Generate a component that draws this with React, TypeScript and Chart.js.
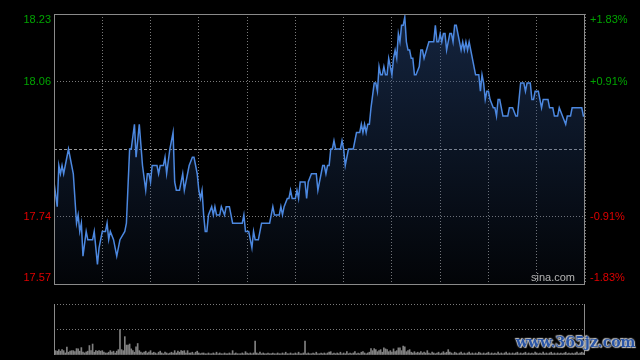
import React, { useEffect, useRef } from "react";
import { Chart, registerables } from "chart.js";
Chart.register(...registerables);

// ---- data ----
const prevClose = 17.9;
const halfRange = 0.3275; // 1.83% of previous close
const totalMinutes = 330; // HK session 09:30-12:00, 13:00-16:00
const leftTickLabels = ["18.23", "18.06", "17.74", "17.57"];
const rightTickLabels = ["+1.83%", "+0.91%", "-0.91%", "-1.83%"];
const tickSteps = [1, 0.5, -0.5, -1]; // fraction of halfRange above / below previous close

// minute index of each turning point of the price line, and its price
const priceMinutes = [
  0, 2, 3, 4, 5, 6, 9, 12, 14, 15, 16, 17, 18, 20, 21, 24, 25, 27, 28, 30,
  32, 33, 34, 35, 37, 39, 41, 44, 45, 47, 48, 50, 51, 53, 55, 57, 58, 59, 60, 61,
  64, 65, 66, 68, 69, 70, 72, 74, 75, 76, 78, 80, 81, 82, 84, 86, 87, 89, 90, 91,
  92, 93, 94, 95, 96, 98, 99, 100, 101, 103, 104, 106, 107, 109, 110, 111, 117, 118, 119, 121,
  122, 123, 124, 125, 127, 129, 134, 136, 137, 140, 141, 142, 143, 145, 146, 147, 148, 150, 151, 152,
  153, 156, 157, 158, 160, 163, 164, 165, 167, 168, 169, 170, 171, 172, 173, 174, 175, 178, 179, 180,
  181, 183, 186, 188, 190, 191, 192, 193, 194, 195, 196, 197, 199, 200, 201, 202, 203, 204, 205, 206,
  207, 208, 209, 210, 211, 212, 213, 214, 215, 216, 217, 218, 219, 220, 221, 222, 223, 224, 225, 227,
  228, 229, 230, 233, 236, 237, 238, 239, 240, 241, 242, 243, 244, 246, 247, 248, 249, 250, 251, 253,
  254, 255, 256, 257, 258, 259, 261, 262, 264, 265, 266, 267, 268, 269, 270, 271, 273, 274, 275, 276,
  277, 279, 282, 283, 285, 287, 288, 289, 290, 292, 293, 294, 296, 297, 298, 299, 301, 303, 304, 307,
  308, 310, 311, 313, 314, 316, 318, 319, 321, 322, 328, 329, 330,
];
const priceValues = [
  17.82, 17.76, 17.86, 17.84, 17.86, 17.84, 17.9, 17.84, 17.72, 17.74, 17.7, 17.72, 17.64, 17.7, 17.68, 17.68, 17.7, 17.62, 17.66, 17.7,
  17.7, 17.72, 17.68, 17.7, 17.68, 17.64, 17.68, 17.7, 17.72, 17.9, 17.9, 17.96, 17.88, 17.96, 17.86, 17.8, 17.84, 17.84, 17.82, 17.86,
  17.86, 17.84, 17.86, 17.86, 17.88, 17.84, 17.9, 17.94, 17.82, 17.8, 17.8, 17.84, 17.8, 17.82, 17.86, 17.88, 17.88, 17.84, 17.8, 17.78,
  17.8, 17.74, 17.7, 17.7, 17.74, 17.76, 17.74, 17.76, 17.74, 17.74, 17.76, 17.74, 17.76, 17.76, 17.74, 17.72, 17.72, 17.74, 17.7, 17.7,
  17.68, 17.66, 17.7, 17.68, 17.68, 17.72, 17.72, 17.76, 17.74, 17.74, 17.76, 17.74, 17.76, 17.78, 17.78, 17.8, 17.78, 17.78, 17.8, 17.78,
  17.82, 17.82, 17.78, 17.82, 17.84, 17.84, 17.8, 17.82, 17.86, 17.86, 17.84, 17.86, 17.86, 17.9, 17.9, 17.92, 17.9, 17.9, 17.92, 17.9,
  17.86, 17.9, 17.9, 17.94, 17.94, 17.96, 17.94, 17.96, 17.94, 17.96, 17.96, 18.0, 18.06, 18.06, 18.04, 18.1, 18.08, 18.08, 18.1, 18.08,
  18.08, 18.12, 18.1, 18.08, 18.12, 18.14, 18.12, 18.18, 18.16, 18.2, 18.2, 18.22, 18.16, 18.14, 18.14, 18.12, 18.12, 18.08, 18.08, 18.1,
  18.14, 18.14, 18.12, 18.16, 18.16, 18.2, 18.16, 18.16, 18.18, 18.16, 18.18, 18.18, 18.14, 18.18, 18.18, 18.16, 18.2, 18.2, 18.18, 18.14,
  18.16, 18.14, 18.16, 18.14, 18.16, 18.14, 18.1, 18.08, 18.08, 18.04, 18.08, 18.06, 18.02, 18.04, 18.04, 18.02, 18.0, 18.0, 17.98, 18.02,
  18.02, 17.98, 17.98, 18.0, 18.0, 17.98, 17.98, 18.02, 18.06, 18.06, 18.04, 18.06, 18.06, 18.02, 18.02, 18.04, 18.04, 18.0, 18.02, 18.02,
  18.0, 18.0, 17.98, 17.98, 18.0, 17.98, 17.96, 17.98, 17.98, 18.0, 18.0, 17.98, 17.98,
];

// per-minute volume (relative units, 100 = middle grid line)
const volumes = [
  17, 17, 15, 21, 15, 21, 17, 8, 31, 11,
  15, 17, 17, 13, 25, 24, 15, 29, 11, 8,
  12, 15, 37, 17, 43, 11, 17, 15, 17, 15,
  17, 11, 8, 8, 11, 17, 11, 15, 8, 15,
  21, 100, 21, 17, 72, 39, 39, 43, 24, 17,
  11, 32, 45, 17, 11, 8, 11, 15, 8, 11,
  17, 8, 11, 8, 5, 11, 15, 8, 5, 11,
  8, 5, 8, 11, 8, 17, 8, 15, 11, 17,
  15, 17, 8, 17, 8, 8, 11, 5, 11, 15,
  8, 5, 8, 8, 5, 5, 8, 5, 5, 8,
  5, 11, 5, 8, 5, 5, 8, 5, 5, 8,
  5, 17, 5, 8, 5, 5, 5, 8, 5, 13,
  8, 5, 8, 5, 8, 55, 8, 5, 11, 5,
  8, 5, 5, 8, 5, 5, 8, 5, 5, 8,
  5, 5, 8, 5, 11, 5, 5, 8, 5, 5,
  8, 5, 11, 5, 5, 8, 55, 5, 8, 5,
  5, 8, 5, 11, 5, 5, 8, 5, 8, 5,
  8, 11, 13, 5, 8, 5, 8, 5, 11, 5,
  8, 5, 13, 5, 8, 5, 8, 13, 5, 8,
  5, 11, 13, 8, 5, 8, 11, 25, 17, 25,
  21, 13, 17, 21, 11, 28, 24, 21, 13, 17,
  11, 24, 13, 17, 28, 28, 17, 35, 32, 13,
  17, 21, 11, 8, 13, 8, 11, 8, 13, 8,
  11, 8, 17, 8, 5, 11, 8, 5, 8, 11,
  5, 8, 13, 8, 11, 21, 11, 8, 5, 11,
  8, 5, 8, 11, 5, 8, 5, 8, 11, 5,
  8, 5, 8, 5, 11, 8, 5, 8, 5, 8,
  11, 5, 8, 5, 8, 5, 11, 5, 8, 5,
  8, 11, 5, 8, 5, 8, 5, 8, 11, 5,
  8, 5, 8, 11, 5, 8, 5, 8, 5, 11,
  8, 5, 8, 5, 11, 5, 8, 5, 8, 11,
  5, 8, 5, 8, 5, 8, 5, 8, 11, 5,
  8, 5, 8, 5, 8, 11, 5, 8, 11, 8,
  8,
];

const priceMin = prevClose - halfRange;
const priceMax = prevClose + halfRange;
const gridPrices = [-1, -0.5, 0, 0.5, 1].map((k) => prevClose + k * halfRange);

const FONT = "'Liberation Sans', Arial, sans-serif";
const GRID = "#7a7a7a";
const BORDER = "#8a8a8a";
const UP = "#00a400";
const DOWN = "#e00000";

const priceOverlay = {
  id: "priceOverlay",
  beforeDatasetsDraw(chart: any) {
    const { ctx, chartArea: a, scales } = chart;
    const y = Math.round(scales.y.getPixelForValue(prevClose)) + 0.5;
    ctx.save();
    ctx.strokeStyle = "#9a9a9a";
    ctx.lineWidth = 1;
    ctx.setLineDash([3, 2]);
    ctx.beginPath();
    ctx.moveTo(a.left, y);
    ctx.lineTo(a.right, y);
    ctx.stroke();
    ctx.restore();
  },
  afterDraw(chart: any) {
    const { ctx, chartArea: a, scales } = chart;
    ctx.save();
    ctx.strokeStyle = BORDER;
    ctx.lineWidth = 1;
    ctx.setLineDash([]);
    ctx.strokeRect(Math.round(a.left) + 0.5, Math.round(a.top) + 0.5, Math.round(a.right - a.left) - 1, Math.round(a.bottom - a.top));
    ctx.font = "11px " + FONT;
    ctx.textBaseline = "middle";
    tickSteps.forEach((k, i) => {
      let py = scales.y.getPixelForValue(prevClose + k * halfRange);
      if (i === 0) py += 6;
      if (i === tickSteps.length - 1) py -= 6;
      ctx.fillStyle = k > 0 ? UP : DOWN;
      ctx.textAlign = "right";
      ctx.fillText(leftTickLabels[i], a.left - 3, py);
      ctx.textAlign = "left";
      ctx.fillText(rightTickLabels[i], a.right + 5, py);
    });
    ctx.fillStyle = "#b4b4b4";
    ctx.textAlign = "right";
    ctx.font = "11px " + FONT;
    ctx.fillText("sina.com", a.right - 10, a.bottom - 6);
    ctx.restore();
  },
};

const volOverlay = {
  id: "volOverlay",
  afterDraw(chart: any) {
    const { ctx, chartArea: a } = chart;
    ctx.save();
    ctx.strokeStyle = BORDER;
    ctx.lineWidth = 1;
    ctx.beginPath();
    const l = Math.round(a.left) + 0.5;
    const r = Math.round(a.right) - 0.5;
    ctx.moveTo(l, a.top);
    ctx.lineTo(l, a.bottom);
    ctx.moveTo(r, a.top);
    ctx.lineTo(r, a.bottom);
    ctx.stroke();
    ctx.restore();
  },
};

export default function App() {
  const priceRef = useRef<HTMLCanvasElement>(null);
  const volRef = useRef<HTMLCanvasElement>(null);

  useEffect(() => {
    document.body.style.margin = "0";
    document.body.style.background = "#000";
    const pc = new Chart(priceRef.current!, {
      type: "line",
      data: {
        datasets: [
          {
            data: priceMinutes.map((m, i) => ({ x: m, y: priceValues[i] })),
            borderColor: "#4c88e0",
            borderWidth: 1.5,
            pointRadius: 0,
            tension: 0,
            fill: "start",
            backgroundColor: (ctx: any) => {
              const a = ctx.chart.chartArea;
              if (!a) return "rgba(30,55,100,0.3)";
              const g = ctx.chart.ctx.createLinearGradient(0, a.top, 0, a.bottom);
              g.addColorStop(0, "rgba(40,72,125,0.5)");
              g.addColorStop(1, "rgba(40,72,125,0.06)");
              return g;
            },
          },
        ],
      },
      options: {
        responsive: false,
        animation: false,
        events: [],
        layout: { padding: { left: 54, right: 55, top: 14, bottom: 6 } },
        plugins: { legend: { display: false }, tooltip: { enabled: false } },
        scales: {
          x: {
            type: "linear",
            min: 0,
            max: totalMinutes,
            ticks: { display: false, stepSize: 30 },
            grid: { color: GRID, drawTicks: false, lineWidth: 1 },
            border: { display: false, dash: [1, 2] },
          },
          y: {
            type: "linear",
            min: priceMin,
            max: priceMax,
            afterBuildTicks: (s: any) => {
              s.ticks = gridPrices.map((v) => ({ value: v }));
            },
            ticks: { display: false },
            grid: {
              color: (c: any) => (c.tick && Math.abs(c.tick.value - prevClose) < 1e-6 ? "rgba(0,0,0,0)" : GRID),
              drawTicks: false,
            },
            border: { display: false, dash: [1, 2] },
          },
        },
      },
      plugins: [priceOverlay],
    });

    const vc = new Chart(volRef.current!, {
      type: "bar",
      data: {
        datasets: [
          {
            data: volumes.map((v, i) => ({ x: i, y: v })),
            backgroundColor: "#808080",
            barThickness: 1,
          },
        ],
      },
      options: {
        responsive: false,
        animation: false,
        events: [],
        layout: { padding: { left: 54, right: 55, top: 14, bottom: 5 } },
        plugins: { legend: { display: false }, tooltip: { enabled: false } },
        scales: {
          x: {
            type: "linear",
            min: 0,
            max: totalMinutes,
            offset: false,
            ticks: { display: false },
            grid: { display: false, drawTicks: false },
            border: { display: false },
          },
          y: {
            type: "linear",
            min: 0,
            max: 200,
            ticks: { display: false, stepSize: 100 },
            grid: {
              color: (c: any) => (c.tick && c.tick.value > 0 ? GRID : "rgba(0,0,0,0)"),
              drawTicks: false,
            },
            border: { display: false, dash: [1, 2] },
          },
        },
      },
      plugins: [volOverlay],
    });

    return () => {
      pc.destroy();
      vc.destroy();
    };
  }, []);

  return (
    <div style={{ position: "absolute", left: 0, top: 0, width: 640, height: 360, background: "#000", overflow: "hidden" }}>
      <canvas ref={priceRef} width={640} height={290} style={{ position: "absolute", left: 0, top: 0, width: 640, height: 290 }} />
      <canvas ref={volRef} width={640} height={70} style={{ position: "absolute", left: 0, top: 290, width: 640, height: 70 }} />
      <div
        style={{
          position: "absolute",
          left: 516,
          top: 334,
          fontFamily: "'DejaVu Serif', serif",
          fontWeight: "bold",
          fontSize: 14,
          color: "#2a55a6",
          letterSpacing: 0,
          textShadow: "0 0 1px #ddd, 0 0 2px #ccc, 1px 1px 1px #bbb, -1px -1px 1px #bbb",
          whiteSpace: "nowrap",
        }}
      >
        www.365jz.com
      </div>
    </div>
  );
}
